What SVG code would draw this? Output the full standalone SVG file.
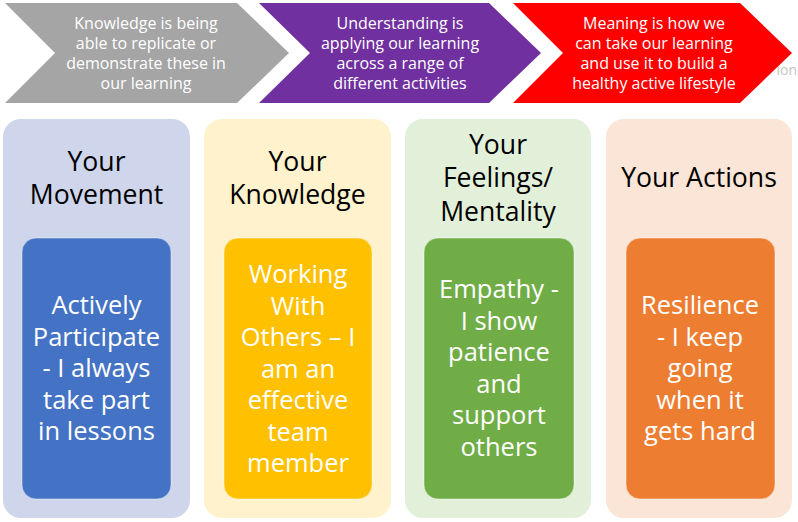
<svg xmlns="http://www.w3.org/2000/svg" width="798" height="522" viewBox="0 0 798 522">
  <style>
    text { font-family: "Open Sans", "Noto Sans", "Liberation Sans", sans-serif; text-anchor: middle; }
    .chev-text { font-size: 16px; fill: #FFFFFF; }
    .head { font-size: 26.6px; fill: #000000; }
    .body { font-size: 25.5px; fill: #FFFFFF; }
    .inner { stroke: #FFFFFF; stroke-opacity: 0.45; stroke-width: 1; }
  </style>

  <rect x="0" y="0" width="798" height="522" fill="#FFFFFF"/>

  <!-- faint leftover label behind the last arrow -->
  <text x="797" y="75" style="font-size:14px; fill:#C4C4C4; text-anchor:end;">ion</text>

  <!-- process arrows -->
  <g id="step-knowledge">
    <polygon points="5,3 237,3 289,53 237,103 5,103 55,53" fill="#A5A5A5"/>
    <text class="chev-text" x="146" y="29">Knowledge is being</text>
    <text class="chev-text" x="146" y="49">able to replicate or</text>
    <text class="chev-text" x="146" y="69">demonstrate these in</text>
    <text class="chev-text" x="146" y="89">our learning</text>
  </g>
  <g id="step-understanding">
    <polygon points="259,3 489,3 541,53 489,103 259,103 310,53" fill="#7030A0"/>
    <text class="chev-text" x="400" y="29">Understanding is</text>
    <text class="chev-text" x="400" y="49">applying our learning</text>
    <text class="chev-text" x="400" y="69">across a range of</text>
    <text class="chev-text" x="400" y="89">different activities</text>
  </g>
  <g id="step-meaning">
    <polygon points="513,3 740,3 792,53 740,103 513,103 563,53" fill="#FF0000"/>
    <text class="chev-text" x="654" y="29">Meaning is how we</text>
    <text class="chev-text" x="654" y="49">can take our learning</text>
    <text class="chev-text" x="654" y="69">and use it to build a</text>
    <text class="chev-text" x="654" y="89">healthy active lifestyle</text>
  </g>

  <!-- category columns -->
  <g id="col-movement">
    <rect x="3" y="119" width="187" height="399" rx="18" fill="#CFD5EA"/>
    <text class="head" x="96.5" y="171">Your</text>
    <text class="head" x="96.5" y="204">Movement</text>
    <rect class="inner" x="22" y="238" width="149" height="261" rx="14" fill="#4472C4"/>
    <text class="body" x="96.5" y="314">Actively</text>
    <text class="body" x="96.5" y="345.5">Participate</text>
    <text class="body" x="96.5" y="377">- I always</text>
    <text class="body" x="96.5" y="408.5">take part</text>
    <text class="body" x="96.5" y="440">in lessons</text>
  </g>

  <g id="col-knowledge">
    <rect x="204" y="119" width="187" height="399" rx="18" fill="#FFF2CC"/>
    <text class="head" x="297.5" y="171">Your</text>
    <text class="head" x="297.5" y="204">Knowledge</text>
    <rect class="inner" x="224" y="238" width="148" height="261" rx="14" fill="#FFC000"/>
    <text class="body" x="298" y="283">Working</text>
    <text class="body" x="298" y="314.5">With</text>
    <text class="body" x="298" y="346">Others – I</text>
    <text class="body" x="298" y="377.5">am an</text>
    <text class="body" x="298" y="409">effective</text>
    <text class="body" x="298" y="440.5">team</text>
    <text class="body" x="298" y="472">member</text>
  </g>

  <g id="col-feelings">
    <rect x="405" y="119" width="186" height="399" rx="18" fill="#E2F0D9"/>
    <text class="head" x="498" y="153.5">Your</text>
    <text class="head" x="498" y="187">Feelings/</text>
    <text class="head" x="498" y="220.5">Mentality</text>
    <rect class="inner" x="424" y="238" width="150" height="261" rx="14" fill="#70AD47"/>
    <text class="body" x="499" y="298">Empathy -</text>
    <text class="body" x="499" y="329.5">I show</text>
    <text class="body" x="499" y="361">patience</text>
    <text class="body" x="499" y="392.5">and</text>
    <text class="body" x="499" y="424">support</text>
    <text class="body" x="499" y="455.5">others</text>
  </g>

  <g id="col-actions">
    <rect x="606" y="119" width="186" height="399" rx="18" fill="#FBE5D6"/>
    <text class="head" x="699" y="187">Your Actions</text>
    <rect class="inner" x="626" y="238" width="149" height="261" rx="14" fill="#ED7D31"/>
    <text class="body" x="700" y="314">Resilience</text>
    <text class="body" x="700" y="345.5">- I keep</text>
    <text class="body" x="700" y="377">going</text>
    <text class="body" x="700" y="408.5">when it</text>
    <text class="body" x="700" y="440">gets hard</text>
  </g>

  <!-- no connectors between columns -->
  <g id="connectors"></g>
</svg>
